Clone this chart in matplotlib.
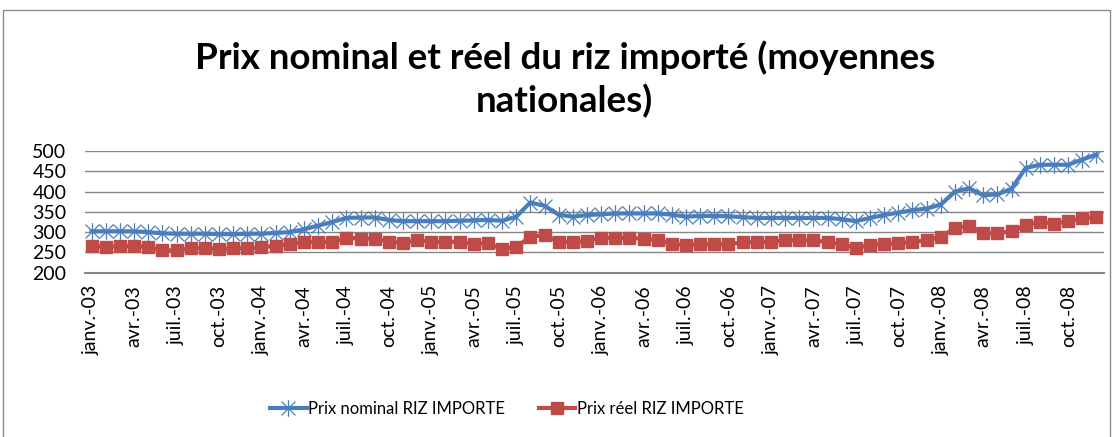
import matplotlib
matplotlib.use("Agg")
import matplotlib.pyplot as plt
import numpy as np
from matplotlib.path import Path
from matplotlib.patches import Rectangle

plt.rcParams['font.family'] = ['Lato', 'DejaVu Sans']

# monthly series, janv. 2003 -> dec. 2008
nominal = [302, 302, 302, 302, 300, 297, 296, 296, 296, 295, 295, 296, 296, 298, 300,
           307, 316, 325, 335, 336, 336, 330, 327, 327, 327, 327, 328, 329, 330,
           328, 338, 373, 365, 343, 338, 342, 344, 346, 346, 346, 346, 343,
           338, 340, 340, 339, 337, 335, 335, 335, 335, 335, 335, 332, 327, 335,
           342, 348, 354, 358, 368, 400, 408, 391, 393, 407, 458, 466, 466, 466, 479, 491]
reel = [266, 264, 265, 265, 264, 255, 255, 261, 260, 258, 260, 260, 263, 266, 270,
        276, 276, 275, 286, 284, 284, 276, 274, 280, 276, 276, 276, 271, 273,
        258, 264, 288, 293, 276, 275, 279, 286, 286, 286, 284, 280, 271,
        268, 270, 270, 270, 275, 275, 276, 280, 280, 280, 275, 270, 261, 268,
        271, 272, 276, 280, 289, 309, 316, 297, 297, 302, 317, 325, 321, 327, 334, 338]

mois = ["janv.", "avr.", "juil.", "oct."]
annees = ["03", "04", "05", "06", "07", "08"]
tick_labels = [m + "-" + a for a in annees for m in mois]

blue = "#4A7EBB"
red = "#BE4B48"

# excel style star marker: X plus a vertical bar
star = Path([(-1, -1), (1, 1), (-1, 1), (1, -1), (0, -1.2), (0, 1.2)],
            [Path.MOVETO, Path.LINETO, Path.MOVETO, Path.LINETO, Path.MOVETO, Path.LINETO])

fig = plt.figure(figsize=(11.14, 4.37), dpi=100)
fig.patches.append(Rectangle((3 / 1114, -0.05), 1107 / 1114, 1 - 10 / 437 + 0.05,
                             transform=fig.transFigure, fill=False,
                             edgecolor="#8c8c8c", lw=1))

ax = fig.add_axes([0.0759, 0.376, 0.9147, 0.2785])
x = np.arange(len(nominal))
ax.plot(x, nominal, color=blue, lw=3, marker=star, ms=12, mew=0.9,
        mec=blue, mfc="none", label="Prix nominal RIZ IMPORTE", zorder=3)
ax.plot(x, reel, color=red, lw=3, marker="s", ms=8, mec=red, mfc=red,
        label="Prix réel RIZ IMPORTE", zorder=3)

ax.set_xlim(-0.5, len(nominal) - 0.5)
ax.set_ylim(200, 500)
ax.set_yticks(range(200, 501, 50))
ax.set_xticks(range(0, len(nominal), 3))
ax.set_xticklabels(tick_labels, rotation=90)
ax.tick_params(axis="both", length=0, labelsize=14)
ax.tick_params(axis="y", pad=13)
ax.tick_params(axis="x", pad=9)
ax.grid(axis="y", color="#868686", lw=1)
ax.set_axisbelow(True)
for s in ["left", "right", "top"]:
    ax.spines[s].set_visible(False)
ax.spines["bottom"].set_color("#868686")
ax.spines["bottom"].set_linewidth(1.5)

fig.text(0.507, 0.819, "Prix nominal et réel du riz importé (moyennes\nnationales)",
         ha="center", va="center", fontsize=26.5, fontweight="bold", linespacing=1.3)

fig.legend(loc="center", bbox_to_anchor=(0.455, 0.064), ncol=2, frameon=False,
           fontsize=12, handlelength=2.2, handletextpad=0.1, columnspacing=2.0)

fig.savefig("out.png", dpi=100)
